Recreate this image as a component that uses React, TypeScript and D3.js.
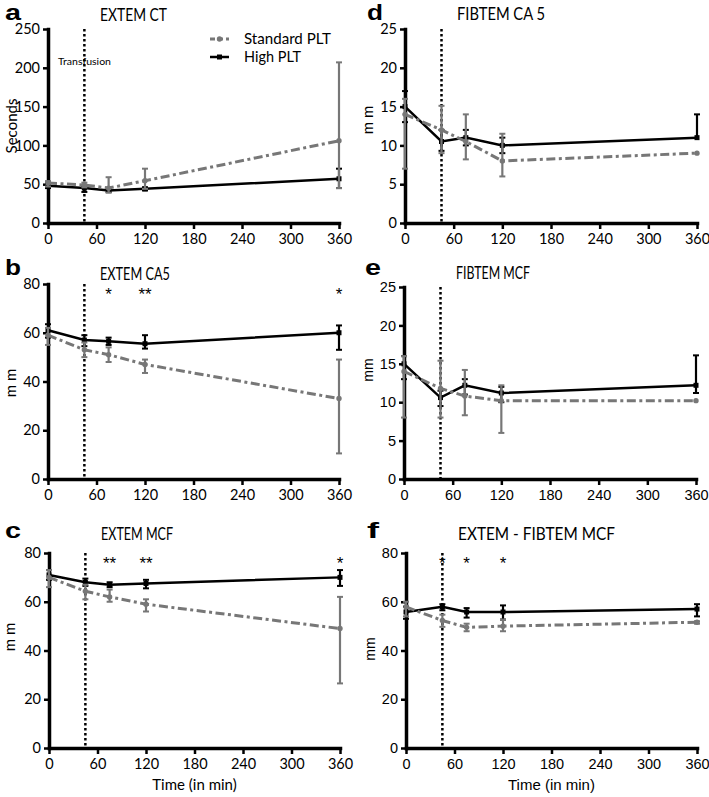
import React from "react";
import * as d3 from "d3";

// sampling times (min)
const times = [0, 45, 75, 120, 360];
const xTicks = [0, 60, 120, 180, 240, 300, 360];
const transfusionTime = 45;
const seriesNames = ["Standard PLT", "High PLT"];

// a - EXTEM CT
const ctStd = [51.5, 49, 45, 54.5, 106];
const ctStdLo = [47, 46, 39, 44, 45];
const ctStdHi = [54, 52, 59, 70, 207];
const ctHigh = [48, 45, 42, 44, 57];
const ctHighLo = [45, 40, 40, 42, 45];
const ctHighHi = [51, 48, 45, 46, 70];
const ctStars = ["", "", "", "", ""];

// b - EXTEM CA5
const ca5Std = [59, 53, 51, 47, 33];
const ca5StdLo = [55, 50, 48, 43.5, 10.5];
const ca5StdHi = [62, 56, 54, 49, 49];
const ca5High = [61, 57, 56.5, 55.5, 60];
const ca5HighLo = [58, 54.5, 55, 53.5, 53];
const ca5HighHi = [63.5, 59, 58, 59, 63];
const ca5Stars = ["", "", "*", "**", "*"];

// c - EXTEM MCF
const mcfStd = [70, 64.3, 62, 59, 49];
const mcfStdLo = [66, 61, 60, 56, 26.5];
const mcfStdHi = [73, 67, 65, 61, 62];
const mcfHigh = [71, 68, 67, 67.5, 70];
const mcfHighLo = [69, 66.5, 66, 65.5, 66.5];
const mcfHighHi = [73, 69.5, 68, 69, 73];
const mcfStars = ["", "", "**", "**", "*"];

// d - FIBTEM CA 5
const fca5Std = [14, 12, 10.5, 8, 9];
const fca5StdLo = [7, 9, 8.2, 6, 9];
const fca5StdHi = [16, 15.1, 14, 11.5, 9];
const fca5High = [15, 10.5, 11, 10, 11];
const fca5HighLo = [13, 9.3, 10, 9, 11];
const fca5HighHi = [17, 12, 12, 11, 14];
const fca5Stars = ["", "", "", "", ""];

// e - FIBTEM MCF
const fmcfStd = [14, 11.8, 10.8, 10.2, 10.2];
const fmcfStdLo = [8, 8, 8.3, 6, 10.2];
const fmcfStdHi = [16, 15.4, 14.2, 12.2, 10.2];
const fmcfHigh = [15, 10.6, 12.2, 11.2, 12.2];
const fmcfHighLo = [13, 9.5, 11, 10, 11.2];
const fmcfHighHi = [16, 11.5, 13, 12, 16.1];
const fmcfStars = ["", "", "", "", ""];

// f - EXTEM - FIBTEM MCF
const diffStd = [57.9, 52.3, 49.5, 50, 51.6];
const diffStdLo = [54, 49.7, 47.9, 47.9, 51];
const diffStdHi = [60, 54.7, 51, 52.7, 52];
const diffHigh = [55.8, 57.9, 55.8, 55.8, 57];
const diffHighLo = [53, 56.5, 53.5, 52.7, 54];
const diffHighHi = [58, 59, 57.4, 58.5, 59];
const diffStars = ["", "*", "*", "*", ""];

const GREY = "#777";
const CAL = "Lato, 'Open Sans', sans-serif";
const ARIAL = "'Liberation Sans', Arial, sans-serif";

const panels = [
  { letter: "a", lx: 5, ly: 20, title: "EXTEM CT", tw: 67, ty: 21, left: 48, right: 339, top: 29, bottom: 223, max: 250, step: 50,
    ylab: "Seconds", ylx: 11, yly: 126, font: CAL, xlab: false,
    std: ctStd, stdLo: ctStdLo, stdHi: ctStdHi, high: ctHigh, highLo: ctHighLo, highHi: ctHighHi, stars: ctStars },
  { letter: "b", lx: 5, ly: 275, title: "EXTEM CA5", tw: 70, ty: 280, left: 48, right: 339, top: 284, bottom: 479, max: 80, step: 20,
    ylab: "m m", ylx: 10, yly: 383, font: CAL, xlab: false,
    std: ca5Std, stdLo: ca5StdLo, stdHi: ca5StdHi, high: ca5High, highLo: ca5HighLo, highHi: ca5HighHi, stars: ca5Stars },
  { letter: "c", lx: 5, ly: 538, title: "EXTEM MCF", tw: 72, ty: 540, left: 49, right: 340, top: 553, bottom: 748, max: 80, step: 20,
    ylab: "m m", ylx: 9, yly: 637, font: CAL, xlab: true,
    std: mcfStd, stdLo: mcfStdLo, stdHi: mcfStdHi, high: mcfHigh, highLo: mcfHighLo, highHi: mcfHighHi, stars: mcfStars },
  { letter: "d", lx: 367, ly: 20, title: "FIBTEM CA 5", tw: 88, ty: 20, left: 405, right: 697, top: 29, bottom: 223, max: 25, step: 5,
    ylab: "m m", ylx: 367, yly: 120, font: CAL, xlab: false,
    std: fca5Std, stdLo: fca5StdLo, stdHi: fca5StdHi, high: fca5High, highLo: fca5HighLo, highHi: fca5HighHi, stars: fca5Stars },
  { letter: "e", lx: 365, ly: 275, title: "FIBTEM MCF", tw: 74, ty: 279, left: 404, right: 696, top: 287, bottom: 479, max: 25, step: 5,
    ylab: "mm", ylx: 368, yly: 370, font: ARIAL, xlab: false,
    std: fmcfStd, stdLo: fmcfStdLo, stdHi: fmcfStdHi, high: fmcfHigh, highLo: fmcfHighLo, highHi: fmcfHighHi, stars: fmcfStars },
  { letter: "f", lx: 367, ly: 538, title: "EXTEM - FIBTEM MCF", tw: 157, ty: 540, left: 406, right: 697, top: 553, bottom: 748, max: 80, step: 20,
    ylab: "mm", ylx: 370, yly: 649, font: ARIAL, xlab: true,
    std: diffStd, stdLo: diffStdLo, stdHi: diffStdHi, high: diffHigh, highLo: diffHighLo, highHi: diffHighHi, stars: diffStars },
];

const App = () => {
  const ref = React.useRef<SVGSVGElement>(null);

  React.useEffect(() => {
    const svg = d3.select(ref.current);
    svg.selectAll("*").remove();

    panels.forEach((p, pi) => {
      const x = d3.scaleLinear().domain([0, 360]).range([p.left, p.right]);
      const y = d3.scaleLinear().domain([0, p.max]).range([p.bottom, p.top]);
      const g = svg.append("g");

      // letter + title
      g.append("text").attr("x", p.lx).attr("y", p.ly)
        .attr("font-family", ARIAL).attr("font-weight", "bold").attr("font-size", 22)
        .attr("textLength", p.letter === "f" ? 12 : 16).attr("lengthAdjust", "spacingAndGlyphs")
        .text(p.letter);
      g.append("text").attr("x", p.left + 52).attr("y", p.ty)
        .attr("font-family", CAL).attr("font-size", 17)
        .attr("textLength", p.tw).attr("lengthAdjust", "spacingAndGlyphs")
        .text(p.title);

      // y label
      g.append("text")
        .attr("transform", `translate(${p.ylx},${p.yly}) rotate(-90)`)
        .attr("text-anchor", "middle").attr("dominant-baseline", "central")
        .attr("font-family", p.font).attr("font-size", p.font === CAL ? 15 : 14)
        .text(p.ylab);

      if (p.xlab) {
        g.append("text").attr("x", (p.left + p.right) / 2).attr("y", 790)
          .attr("text-anchor", "middle").attr("font-family", p.font).attr("font-size", 15)
          .text("Time (in min)");
      }

      if (pi === 0) {
        g.append("text").attr("x", 58).attr("y", 65)
          .attr("font-family", CAL).attr("font-size", 10)
          .attr("textLength", 53).attr("lengthAdjust", "spacingAndGlyphs")
          .text("Transfusion");
      }

      // transfusion marker
      g.append("line")
        .attr("x1", x(transfusionTime)).attr("x2", x(transfusionTime))
        .attr("y1", y(p.max)).attr("y2", y(0))
        .attr("stroke", "#000").attr("stroke-width", 2.5).attr("stroke-dasharray", "2.5,2.5");

      // axes
      const yTicks = d3.range(0, p.max + 0.001, p.step);
      const styleAxis = (ax) => {
        ax.select(".domain").attr("stroke-width", 3.5).attr("stroke-linecap", "square");
        ax.selectAll(".tick line").attr("stroke-width", 2.5);
        ax.selectAll(".tick text").attr("font-family", p.font).attr("font-size", 14.5).attr("fill", "#000");
      };
      g.append("g").attr("transform", `translate(${p.left},0)`)
        .call(d3.axisLeft(y).tickValues(yTicks).tickSize(5).tickSizeOuter(0).tickPadding(3).tickFormat(d3.format("d")))
        .call(styleAxis);
      g.append("g").attr("transform", `translate(0,${p.bottom})`)
        .call(d3.axisBottom(x).tickValues(xTicks).tickSize(6).tickSizeOuter(0).tickPadding(5).tickFormat(d3.format("d")))
        .call(styleAxis);

      // series: high first, standard on top
      const drawSeries = (vals, lo, hi, color, dashed, square) => {
        const pts = times.map((t, i) => ({ t, v: vals[i], lo: lo[i], hi: hi[i] }));
        const s = g.append("g");
        const bars = s.selectAll("g.eb").data(pts).join("g").attr("class", "eb");
        bars.append("line")
          .attr("x1", (d) => x(d.t)).attr("x2", (d) => x(d.t))
          .attr("y1", (d) => y(d.lo)).attr("y2", (d) => y(d.hi))
          .attr("stroke", color).attr("stroke-width", 2.2);
        bars.filter((d) => d.hi > d.v).append("line")
          .attr("x1", (d) => x(d.t) - 3).attr("x2", (d) => x(d.t) + 3)
          .attr("y1", (d) => y(d.hi)).attr("y2", (d) => y(d.hi))
          .attr("stroke", color).attr("stroke-width", 2);
        bars.filter((d) => d.lo < d.v).append("line")
          .attr("x1", (d) => x(d.t) - 3).attr("x2", (d) => x(d.t) + 3)
          .attr("y1", (d) => y(d.lo)).attr("y2", (d) => y(d.lo))
          .attr("stroke", color).attr("stroke-width", 2);
        s.append("path").datum(pts)
          .attr("fill", "none").attr("stroke", color)
          .attr("stroke-width", dashed ? 3 : 2.5)
          .attr("stroke-dasharray", dashed ? "9,3.5,3,3.5" : null)
          .attr("d", d3.line().x((d) => x(d.t)).y((d) => y(d.v)));
        if (square) {
          s.selectAll("rect").data(pts).join("rect")
            .attr("x", (d) => x(d.t) - 2.5).attr("y", (d) => y(d.v) - 2.5)
            .attr("width", 5).attr("height", 5).attr("fill", color);
        } else {
          s.selectAll("circle").data(pts).join("circle")
            .attr("cx", (d) => x(d.t)).attr("cy", (d) => y(d.v)).attr("r", 2.7).attr("fill", color);
        }
      };
      drawSeries(p.high, p.highLo, p.highHi, "#000", false, true);
      drawSeries(p.std, p.stdLo, p.stdHi, GREY, true, false);

      // significance stars
      g.selectAll("text.star").data(times.map((t, i) => ({ t, s: p.stars[i] })).filter((d) => d.s))
        .join("text").attr("class", "star")
        .attr("x", (d) => x(d.t)).attr("y", y(77) + 9)
        .attr("text-anchor", "middle").attr("font-family", ARIAL).attr("font-size", 17)
        .attr("fill", "#000")
        .text((d) => d.s);

      // legend (panel a only)
      if (pi === 0) {
        const lg = g.append("g");
        [0, 1].forEach((k) => {
          const ly = k === 0 ? 39 : 57;
          const col = k === 0 ? GREY : "#000";
          lg.append("line").attr("x1", 210).attr("x2", 229).attr("y1", ly).attr("y2", ly)
            .attr("stroke", col).attr("stroke-width", k === 0 ? 3 : 2.5)
            .attr("stroke-dasharray", k === 0 ? "5,3" : null);
          if (k === 0) lg.append("circle").attr("cx", 219.5).attr("cy", ly).attr("r", 2.7).attr("fill", col);
          else lg.append("rect").attr("x", 217).attr("y", ly - 2.5).attr("width", 5).attr("height", 5).attr("fill", col);
          lg.append("text").attr("x", 244).attr("y", ly + 5)
            .attr("font-family", CAL).attr("font-size", 15)
            .attr("textLength", k === 0 ? 87 : 57).attr("lengthAdjust", "spacingAndGlyphs")
            .text(seriesNames[k]);
        });
      }
    });
  }, []);

  return (
    <svg
      ref={ref}
      width={709}
      height={797}
      style={{ position: "absolute", left: 0, top: 0, background: "#fff" }}
    />
  );
};

export default App;
